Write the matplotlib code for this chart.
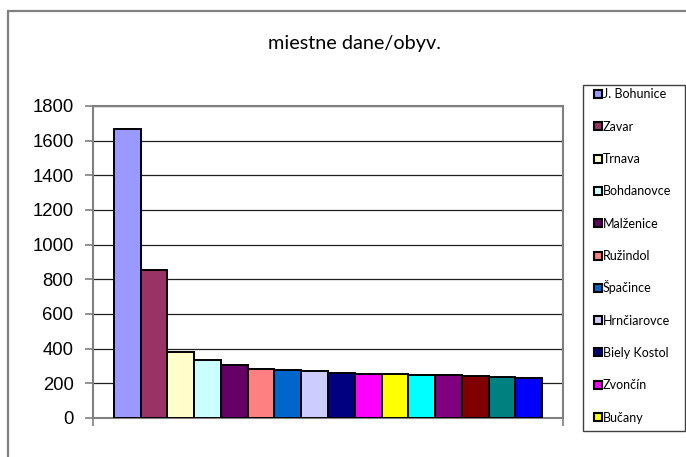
import matplotlib
matplotlib.use("Agg")
import matplotlib.pyplot as plt
from matplotlib.patches import Rectangle

title = "miestne dane/obyv."
legend_labels = ["J. Bohunice", "Zavar", "Trnava", "Bohdanovce", "Malženice", "Ružindol",
                 "Špačince", "Hrnčiarovce", "Biely Kostol", "Zvončín", "Bučany"]
values = [1670, 854, 382, 335, 304, 281, 276, 270, 261, 256, 251, 248, 248, 241, 238, 230]
colors = ["#9999FF", "#993366", "#FFFFCC", "#CCFFFF", "#660066", "#FF8080", "#0066CC",
          "#CCCCFF", "#000080", "#FF00FF", "#FFFF00", "#00FFFF", "#800080", "#800000",
          "#008080", "#0000FF"]
yticks = [0, 200, 400, 600, 800, 1000, 1200, 1400, 1600, 1800]

W, H = 686, 457
fig = plt.figure(figsize=(W / 100, H / 100), dpi=100)
fig.patch.set_facecolor("white")

# outer chart frame (extends past right and bottom edges)
fig.patches.append(Rectangle((8 / W, -0.2), 1.2, 1.2 - 11 / H, transform=fig.transFigure,
                             fill=False, edgecolor="#808080", linewidth=1.6))

ax = fig.add_axes([93 / W, 1 - 418 / H, (563 - 93) / W, (418 - 106) / H])
x = list(range(len(values)))
ax.bar(x, values, width=1.0, color=colors, edgecolor="black", linewidth=1.4, zorder=3)
pad = 0.78
ax.set_xlim(-0.5 - pad, len(values) - 0.5 + pad)
ax.set_ylim(0, 1800)
ax.set_yticks(yticks)
ax.set_yticklabels([str(v) for v in yticks], fontfamily="Liberation Sans", fontsize=13.3)
ax.yaxis.grid(True, color="#202020", linewidth=0.9, zorder=0)
ax.set_xticks([-0.5 - pad, len(values) - 0.5 + pad])
ax.set_xticklabels([])
ax.tick_params(axis="both", direction="out", length=6, width=1.2, color="#808080")
ax.tick_params(axis="y", pad=8)
for s in ax.spines.values():
    s.set_color("#808080")
    s.set_linewidth(1.5)
ax.set_axisbelow(True)

fig.text(355 / W, 1 - 48.5 / H, title, ha="center", va="baseline", fontfamily="Lato",
         fontsize=14.3)

# legend (truncated as in reference)
lx0, lx1, ly0, ly1 = 583, 685, 85, 431
fig.patches.append(Rectangle((lx0 / W, 1 - ly1 / H), (lx1 - lx0) / W, (ly1 - ly0) / H,
                             transform=fig.transFigure, fill=False, edgecolor="#404040",
                             linewidth=1.0))
for i, lab in enumerate(legend_labels):
    yc = 94 + i * 32.3
    fig.patches.append(Rectangle((593.5 / W, 1 - (yc + 4) / H), 8 / W, 8 / H,
                                 transform=fig.transFigure, facecolor=colors[i],
                                 edgecolor="black", linewidth=1.5))
    fig.text(603 / W, 1 - (yc + 4.5) / H, lab, ha="left", va="baseline", fontfamily="Lato",
             fontsize=9)

fig.savefig("out.png", dpi=100)
